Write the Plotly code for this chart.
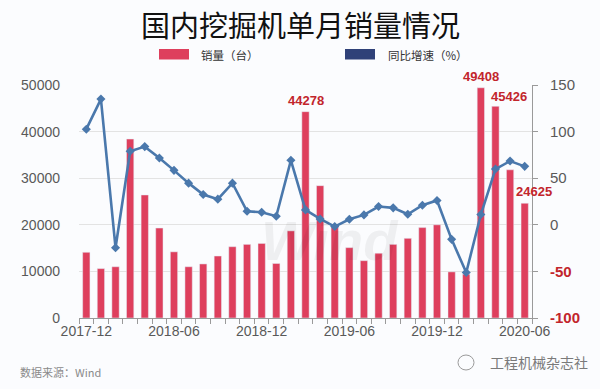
import plotly.graph_objects as go

months = ["2017-12",
          "2018-01", "2018-02", "2018-03", "2018-04", "2018-05", "2018-06",
          "2018-07", "2018-08", "2018-09", "2018-10", "2018-11", "2018-12",
          "2019-01", "2019-02", "2019-03", "2019-04", "2019-05", "2019-06",
          "2019-07", "2019-08", "2019-09", "2019-10", "2019-11", "2019-12",
          "2020-01", "2020-02", "2020-03", "2020-04", "2020-05", "2020-06"]

sales = [14100, 10600, 11000, 38400, 26400, 19300, 14200, 11000, 11600, 13300,
         15300, 15800, 16000, 11700, 18700, 44278, 28400, 19500, 15100, 12300,
         13900, 15800, 17100, 19400, 20000, 9900, 9400, 49408, 45426, 31800, 24625]

yoy = [102.6, 134.9, -24.6, 78.9, 83.9, 71.7, 58.4, 44.7, 32.5, 27.5,
       44.7, 14.5, 13.5, 9.2, 69.2, 16.0, 6.3, -1.9, 5.9, 10.6,
       19.6, 18.2, 11.3, 21.0, 26.1, -15.6, -51.2, 11.0, 59.8, 68.4, 62.7]

x_labels = ["2017-12", "2018-06", "2018-12", "2019-06", "2019-12", "2020-06"]
left_ticks = [0, 10000, 20000, 30000, 40000, 50000]
right_ticks = [-100, -50, 0, 50, 100, 150]
labelled = {"2019-03": (0, 0), "2020-03": (0, 0), "2020-04": (14, -2), "2020-06": (9, 0)}

BAR = "#de3f5d"
LINE = "#4a78ac"
LABEL_RED = "#c2252c"
GRAY = "#595959"
BG = "#fbfcfe"
NUM_FONT = "Liberation Sans, Arial, sans-serif"
CJK_FONT = "Noto Sans CJK SC, sans-serif"

fig = go.Figure()
fig.add_trace(go.Bar(x=months, y=sales, marker_color=BAR, name="销量（台）",
                     showlegend=False, yaxis="y"))
fig.add_trace(go.Scatter(x=months, y=yoy, mode="lines+markers", name="同比增速（%）",
                         line=dict(color=LINE, width=2.6),
                         marker=dict(symbol="diamond", size=7, color=LINE),
                         showlegend=False, yaxis="y2"))

annotations = []
for m, v in zip(months, sales):
    if m in labelled:
        dx, dy = labelled[m]
        annotations.append(dict(x=m, y=v, xref="x", yref="y", text=f"<b>{v}</b>",
                                showarrow=False, yanchor="bottom", xshift=dx, yshift=2 + dy,
                                font=dict(family=NUM_FONT, size=13, color=LABEL_RED)))

# title & legend & footer (pixel positions, converted below)
annotations += [
    dict(x=300, y=24, text="国内挖掘机单月销量情况", showarrow=False,
         font=dict(family=CJK_FONT, size=29, color="#111111")),
    dict(x=199, y=55, text="销量（台）", showarrow=False, xanchor="left",
         font=dict(family=CJK_FONT, size=11.5, color="#333333")),
    dict(x=386, y=55, text="同比增速（%）", showarrow=False, xanchor="left",
         font=dict(family=CJK_FONT, size=11.5, color="#333333")),
    dict(x=18, y=372, text="数据来源：Wind", showarrow=False, xanchor="left",
         font=dict(family=CJK_FONT, size=11, color="#8a8a8a")),
    dict(x=590, y=362, text="工程机械杂志社", showarrow=False, xanchor="right",
         font=dict(family=CJK_FONT, size=14, color="#7a7a7a")),
    dict(x=330, y=240, text="<b><i>Wind</i></b>", showarrow=False,
         font=dict(family=NUM_FONT, size=56, color="rgba(0,0,0,0.05)")),
]

W, H = 600, 389
L, R, T, B = 79, 68, 85, 71
pw, ph = W - L - R, H - T - B
fixed = []
for a in annotations:
    if a.get("xref") == "x":
        fixed.append(a)
        continue
    px, py = a["x"], a["y"]
    a["xref"] = "paper"
    a["yref"] = "paper"
    a["x"] = (px - L) / pw
    a["y"] = (H - B - py) / ph
    a.setdefault("yanchor", "middle")
    fixed.append(a)

shapes = []
for (x0, x1, col) in [(159, 189, BAR), (345, 375, "#2f4178")]:
    shapes.append(dict(type="rect", xref="paper", yref="paper",
                       x0=(x0 - L) / pw, x1=(x1 - L) / pw,
                       y0=(H - B - 59.5) / ph, y1=(H - B - 49) / ph,
                       fillcolor=col, line=dict(width=0)))
shapes.append(dict(type="circle", xref="paper", yref="paper",
                   x0=(458 - L) / pw, x1=(474 - L) / pw,
                   y0=(H - B - 370) / ph, y1=(H - B - 355) / ph,
                   line=dict(color="#9a9a9a", width=1)))

right_text = []
for v in right_ticks:
    if v < 0:
        right_text.append(f"<b><span style='color:{LABEL_RED}'>{v}</span></b>")
    else:
        right_text.append(str(v))

fig.update_layout(
    width=W, height=H,
    margin=dict(l=L, r=R, t=T, b=B),
    paper_bgcolor=BG, plot_bgcolor=BG,
    bargap=0.5,
    showlegend=False,
    annotations=fixed,
    shapes=shapes,
    xaxis=dict(type="category", categoryorder="array", categoryarray=months,
               range=[-0.5, len(months) - 0.5],
               tickvals=months, ticktext=[m if m in x_labels else "" for m in months],
               tickson="boundaries", ticks="outside", ticklen=5, tickcolor="#9a9a9a",
               showline=True, linecolor="#9a9a9a", linewidth=1, showgrid=False,
               tickfont=dict(family=NUM_FONT, size=14, color=GRAY), tickangle=0),
    yaxis=dict(range=[0, 50000], tickvals=left_ticks, tickformat="d", showgrid=True,
               gridcolor="#e3e3e3", gridwidth=1, zeroline=False, showline=False, ticks="",
               ticklabelstandoff=18,
               tickfont=dict(family=NUM_FONT, size=14, color=GRAY)),
    yaxis2=dict(range=[-100, 150], tickvals=right_ticks, ticktext=right_text,
                overlaying="y", side="right", showgrid=False, zeroline=False,
                showline=True, linecolor="#9a9a9a", ticks="outside", ticklen=5,
                tickcolor="#9a9a9a", ticklabelstandoff=9,
                tickfont=dict(family=NUM_FONT, size=15, color=GRAY)),
)

fig.write_html("out.html", config={"displayModeBar": False},
               post_script="document.body.style.margin='0';")
